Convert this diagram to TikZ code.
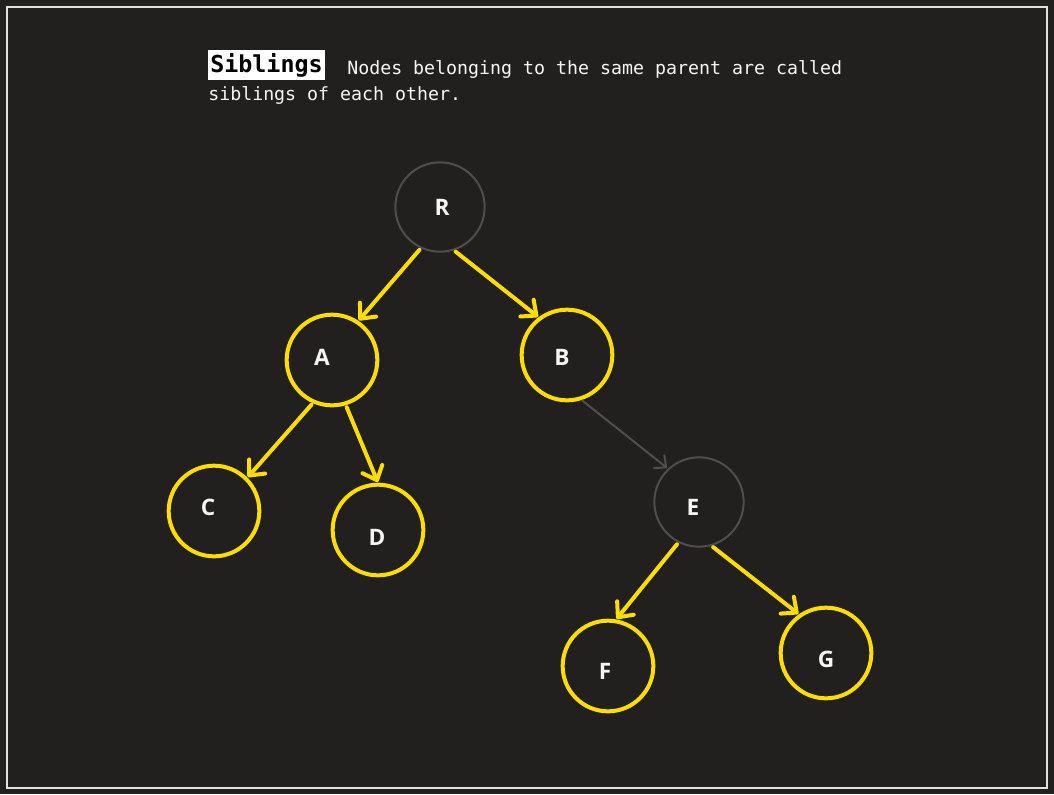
\documentclass[tikz,border=0pt]{standalone}
\usepackage{fontspec}
\usetikzlibrary{arrows.meta}
\newfontfamily\monofont{DejaVu Sans Mono}
\newfontfamily\lblfont{Open Sans}
\definecolor{bg}{RGB}{33,32,31}
\definecolor{framec}{RGB}{225,225,225}
\definecolor{hl}{RGB}{255,221,0}
\definecolor{dim}{RGB}{78,78,78}
\definecolor{txt}{RGB}{245,245,245}
\tikzset{
  frame/.style={draw=framec, line width=1.6pt},
  hot/.style={circle, draw=hl, line width=3pt, minimum size=68pt, inner sep=0pt},
  cold/.style={circle, draw=dim, line width=1.5pt, minimum size=67pt, inner sep=0pt},
  lbl/.style={text=txt, font=\lblfont\bfseries\fontsize{17}{19}\selectfont, inner sep=0pt},
  hotedge/.style={draw=hl, line width=3pt, line cap=round, shorten <=1.5pt, shorten >=0.5pt,
    -{Straight Barb[length=9pt, width=16pt, line width=3pt, round]}},
  coldedge/.style={draw=dim, line width=1.5pt, line cap=round, shorten <=0.5pt, shorten >=0.5pt,
    -{Straight Barb[length=7pt, width=13pt, line width=1.5pt]}},
  desc/.style={text=txt, font=\monofont\fontsize{13.7}{16}\selectfont, inner sep=0pt, anchor=base west}
}
\begin{document}
\begin{tikzpicture}[x=0.75pt,y=-0.75pt]
\fill[bg] (0,0) rectangle (1054,794);
\useasboundingbox (0,0) rectangle (1054,794);
\draw[frame] (7,7) rectangle (1047,788);

% title
\node[fill=white, text=black, font=\monofont\bfseries\fontsize{17.5}{20}\selectfont,
  anchor=west, inner xsep=1.5pt, inner ysep=0pt, minimum height=22.5pt] (title) at (208,65) {Siblings};
\node[desc] (line1) at (347,74) {Nodes belonging to the same parent are called};
\node[desc] (line2) at (208,100) {siblings of each other.};

% circles
\node[cold] (R) at (440,207) {};
\node[hot]  (A) at (332,360) {};
\node[hot]  (B) at (567,355) {};
\node[hot]  (C) at (214,511) {};
\node[hot]  (D) at (378,530) {};
\node[cold] (E) at (699,502) {};
\node[hot]  (F) at (608,666) {};
\node[hot]  (G) at (826,653) {};

% labels
\node[lbl] (lR) at (442,207) {R};
\node[lbl] (lA) at (322,357) {A};
\node[lbl] (lB) at (562,357) {B};
\node[lbl] (lC) at (208,507) {C};
\node[lbl] (lD) at (377,537) {D};
\node[lbl] (lE) at (693,507) {E};
\node[lbl] (lF) at (605,671) {F};
\node[lbl] (lG) at (826,659) {G};

% edges
\draw[hotedge] (R.245) -- (A.56);
\draw[hotedge] (R.288) -- (B.127);
\draw[hotedge] (A.246) -- (C.45);
\draw[hotedge] (A.287) -- (D.90);
\draw[coldedge] (B.288) -- (E.133);
\draw[hotedge] (E.243) -- (F.80);
\draw[hotedge] (E.286) -- (G.125);
\end{tikzpicture}
\end{document}
